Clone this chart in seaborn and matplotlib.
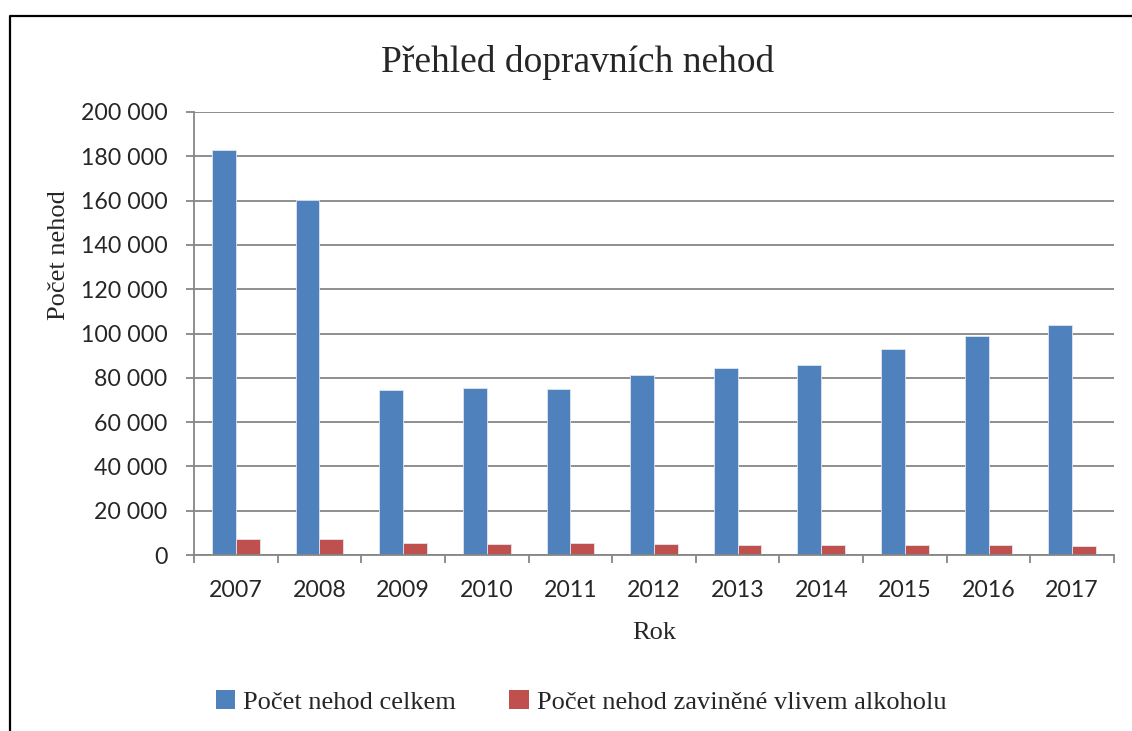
import numpy as np
import pandas as pd
import matplotlib
matplotlib.use("Agg")
import matplotlib.pyplot as plt
import matplotlib.ticker as mticker
from matplotlib.lines import Line2D
from matplotlib.patches import Patch
import seaborn as sns

roky = ["2007", "2008", "2009", "2010", "2011", "2012", "2013", "2014", "2015", "2016", "2017"]
nehody_celkem = [182700, 160100, 74700, 75300, 75000, 81200, 84200, 85600, 92900, 98700, 103800]
nehody_alkohol = [7200, 7100, 5600, 4850, 5200, 4950, 4700, 4550, 4500, 4400, 4250]
serie = ["Počet nehod celkem", "Počet nehod zaviněné vlivem alkoholu"]
barvy = ["#4F81BD", "#C0504D"]
y_ticks = list(range(0, 200001, 20000))

df = pd.DataFrame({
    "Rok": roky * 2,
    "Počet": nehody_celkem + nehody_alkohol,
    "Série": [serie[0]] * len(roky) + [serie[1]] * len(roky),
})

sns.set_style("white")
serif = ["Liberation Serif", "DejaVu Serif"]
sans = ["Lato", "DejaVu Sans"]

fig = plt.figure(figsize=(11.32, 7.31), dpi=100)
ax = fig.add_axes([194 / 1132, 176 / 731, 920 / 1132, 443 / 731])

sns.barplot(data=df, x="Rok", y="Počet", hue="Série", hue_order=serie,
            palette=barvy, saturation=1, width=0.57, gap=0, errorbar=None,
            edgecolor="#dfe6f0", linewidth=0.6, legend=False, ax=ax)

ax.set_xlim(-0.5, len(roky) - 0.5)
ax.set_ylim(0, 200000)
ax.set_yticks(y_ticks)
ax.yaxis.set_major_formatter(mticker.FuncFormatter(lambda v, p: f"{int(v):,}".replace(",", " ")))
ax.yaxis.grid(True, color="#868686", linewidth=1.3)
ax.set_axisbelow(True)

for s in ["top", "right"]:
    ax.spines[s].set_visible(False)
for s in ["left", "bottom"]:
    ax.spines[s].set_color("#868686")
    ax.spines[s].set_linewidth(1.3)

ax.tick_params(axis="y", length=6, width=1.3, color="#868686", pad=13,
               labelsize=16.7, left=True)
ax.tick_params(axis="x", which="major", length=0, pad=18, labelsize=16.7)
ax.set_xticks(np.arange(-0.5, len(roky)), minor=True)
ax.tick_params(axis="x", which="minor", length=6, width=1.3, color="#868686", bottom=True)
for lab in ax.get_xticklabels() + ax.get_yticklabels():
    lab.set_family(sans)

ax.set_ylabel("Počet nehod", family=serif, fontsize=19)
ax.set_xlabel("Rok", family=serif, fontsize=19)
ax.yaxis.set_label_coords(-0.135, 0.677)
ax.xaxis.set_label_coords(0.5, -0.152)

fig.text(578 / 1132, 1 - 62 / 731, "Přehled dopravních nehod", family=serif,
         fontsize=27, ha="center", va="center")

handles = [Patch(facecolor=c, edgecolor="none") for c in barvy]
fig.legend(handles, serie, loc="center", bbox_to_anchor=(581 / 1132, 1 - 702 / 731),
           ncol=2, frameon=False, prop={"family": serif, "size": 19},
           handlelength=0.75, handleheight=0.75, handletextpad=0.3, columnspacing=2.0)

# ramecek grafu (jen levy a horni okraj je videt)
fig.add_artist(Line2D([9.5 / 1132, 9.5 / 1132, 1.0], [0, 1 - 15.5 / 731, 1 - 15.5 / 731],
                      transform=fig.transFigure, color="black", linewidth=1.6))

fig.savefig("out.png", dpi=100)
